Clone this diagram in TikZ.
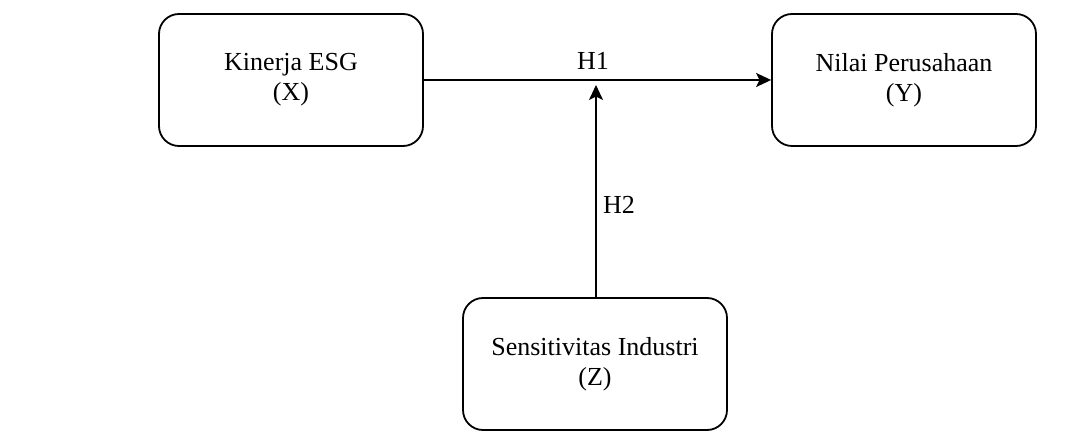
\documentclass[tikz,border=0pt]{standalone}
\usepackage{fontspec}
\setmainfont{Liberation Serif}
\usetikzlibrary{arrows.meta}
\begin{document}
\begin{tikzpicture}[x=1pt,y=-1pt,
  varbox/.style={draw=black, line width=1.8pt, rounded corners=20pt, minimum width=264pt, minimum height=132pt, align=center, inner sep=0pt, font=\fontsize{26}{30}\selectfont},
  conn/.style={draw=black, line width=1.8pt, -{Stealth[length=15pt,width=14pt,inset=3.5pt]}},
  lbl/.style={font=\fontsize{26}{30}\selectfont, inner sep=0pt}]
\useasboundingbox (0,0) rectangle (1075,435);
\node[varbox] (x) at (291,80) {Kinerja ESG\\(X)};
\node[varbox] (y) at (904,80) {Nilai Perusahaan\\(Y)};
\node[varbox] (z) at (595,364) {Sensitivitas Industri\\(Z)};
\coordinate (m) at (596,85);
\draw[conn] (x) -- (y);
\draw[conn] (z.north -| m) -- (m);
\node[lbl] (h1) at (593,61) {H1};
\node[lbl] (h2) at (619,205) {H2};
\end{tikzpicture}
\end{document}
